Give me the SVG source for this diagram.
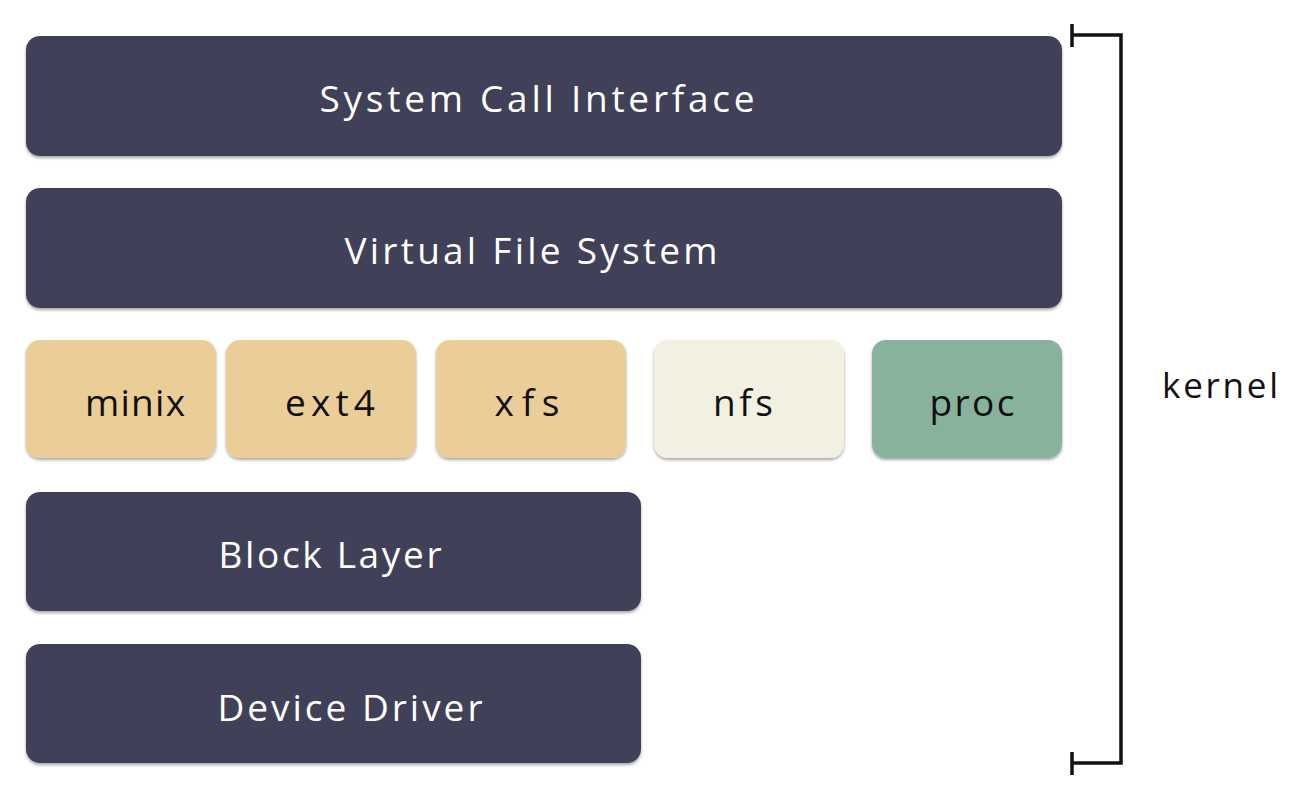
<svg xmlns="http://www.w3.org/2000/svg" width="1314" height="800" viewBox="0 0 1314 800">
<style>
.dark{fill:#3f3f58}
.tan{fill:#ebcd98}
.nfs{fill:#f2f0e0}
.proc{fill:#88b29c}
.lw{font-family:"Comic Sans MS","Open Sans","Liberation Sans",sans-serif;font-size:37px;fill:#ffffff;text-anchor:middle}
.lb{font-family:"Comic Sans MS","Open Sans","Liberation Sans",sans-serif;font-size:37px;fill:#111111;text-anchor:middle}
.br{fill:none;stroke:#111111;stroke-width:3.5}
</style>
<defs>
<filter id="sh" x="-10%" y="-10%" width="120%" height="130%">
<feDropShadow dx="0" dy="2" stdDeviation="1.5" flood-color="#000" flood-opacity="0.35"/>
</filter>
</defs>
<rect width="1314" height="800" fill="#ffffff"/>
<g id="sci"><rect class="dark" x="26" y="36" width="1036" height="120" rx="14" filter="url(#sh)"/><text class="lw" x="537" y="112" textLength="435" lengthAdjust="spacing">System Call Interface</text></g>
<g id="vfs"><rect class="dark" x="26" y="188" width="1036" height="120" rx="14" filter="url(#sh)"/><text class="lw" x="531" y="264" textLength="373" lengthAdjust="spacing">Virtual File System</text></g>
<g id="minix"><rect class="tan" x="26" y="340" width="190" height="118" rx="14" filter="url(#sh)"/><text class="lb" x="135" y="416" textLength="100" lengthAdjust="spacing">minix</text></g>
<g id="ext4"><rect class="tan" x="226" y="340" width="190" height="118" rx="14" filter="url(#sh)"/><text class="lb" x="330" y="416" textLength="90" lengthAdjust="spacing">ext4</text></g>
<g id="xfs"><rect class="tan" x="436" y="340" width="190" height="118" rx="14" filter="url(#sh)"/><text class="lb" x="527" y="416" textLength="65" lengthAdjust="spacing">xfs</text></g>
<g id="nfs"><rect class="nfs" x="654" y="340" width="190" height="118" rx="14" filter="url(#sh)"/><text class="lb" x="743" y="416" textLength="60" lengthAdjust="spacing">nfs</text></g>
<g id="proc"><rect class="proc" x="872" y="340" width="190" height="118" rx="14" filter="url(#sh)"/><text class="lb" x="972" y="416" textLength="85" lengthAdjust="spacing">proc</text></g>
<g id="block"><rect class="dark" x="26" y="492" width="615" height="119" rx="14" filter="url(#sh)"/><text class="lw" x="330" y="568" textLength="223" lengthAdjust="spacing">Block Layer</text></g>
<g id="driver"><rect class="dark" x="26" y="644" width="615" height="119" rx="14" filter="url(#sh)"/><text class="lw" x="350" y="721" textLength="265" lengthAdjust="spacing">Device Driver</text></g>
<g id="connectors">
<path class="br" d="M1072 35 H1121 V763 H1072"/>
<path class="br" d="M1072 24 V47 M1072 752 V775"/>
</g>
<g id="kernel"><text class="lb" x="1220" y="398" style="font-size:35px" textLength="116" lengthAdjust="spacing">kernel</text></g>
</svg>
